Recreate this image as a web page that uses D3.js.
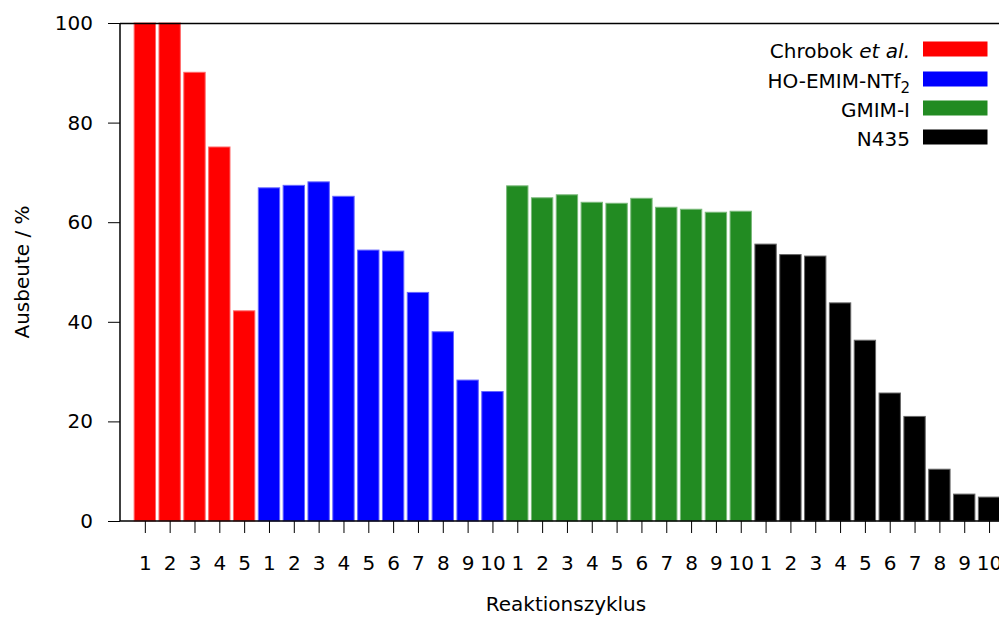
<!DOCTYPE html>
<html>
<head>
<meta charset="utf-8">
<script src="https://cdn.jsdelivr.net/npm/d3@7"></script>
<style>
  html, body { margin: 0; padding: 0; background: #fff; }
  svg { display: block; font-family: "DejaVu Sans", Verdana, sans-serif; }
</style>
</head>
<body>
<svg id="chart" width="999" height="617"></svg>
<script>
// Yield per reaction cycle for each catalyst system
const seriesNames = ["Chrobok et al.", "HO-EMIM-NTf2", "GMIM-I", "N435"];
const seriesColors = ["#ff0000", "#0000ff", "#228b22", "#000000"];
const chrobok = [100, 100, 90.1, 75.1, 42.2];
const hoEmim = [66.9, 67.4, 68.1, 65.2, 54.4, 54.2, 45.9, 38.0, 28.3, 26.0];
const gmim = [67.3, 64.9, 65.5, 64.0, 63.8, 64.8, 63.0, 62.6, 62.0, 62.2];
const n435 = [55.6, 53.5, 53.2, 43.8, 36.3, 25.7, 21.0, 10.4, 5.4, 4.8];
const yTicks = [0, 20, 40, 60, 80, 100];

const allSeries = [chrobok, hoEmim, gmim, n435];
const bars = [];
allSeries.forEach((vals, s) => {
  vals.forEach((v, i) => bars.push({ series: s, cycle: i + 1, value: v }));
});
bars.forEach((b, i) => { b.pos = i + 1; });

const svg = d3.select("#chart");
const plotLeft = 120, plotTop = 23, plotBottom = 521;
const slot = 24.83;
const plotRight = plotLeft + slot * (bars.length + 1);
const fontSize = 20;

const x = d3.scaleLinear().domain([0, bars.length + 1]).range([plotLeft, plotRight]);
const y = d3.scaleLinear().domain([0, 100]).range([plotBottom, plotTop]);
const barW = slot * 0.86;

// bars
svg.append("g").selectAll("rect").data(bars).join("rect")
  .attr("x", d => x(d.pos) - barW / 2)
  .attr("y", d => y(d.value))
  .attr("width", barW)
  .attr("height", d => y(0) - y(d.value))
  .attr("fill", d => seriesColors[d.series])
  .attr("stroke", d => d3.interpolateRgb(seriesColors[d.series], "#fff")(0.4))
  .attr("stroke-width", 1);

// frame: top border
svg.append("line")
  .attr("x1", plotLeft).attr("x2", plotRight)
  .attr("y1", plotTop + 0.5).attr("y2", plotTop + 0.5)
  .attr("stroke", "#000").attr("stroke-width", 1.5);

// y axis
const yAxis = d3.axisLeft(y).tickValues(yTicks).tickSize(12).tickPadding(15);
const gy = svg.append("g").attr("transform", `translate(${plotLeft},0)`).call(yAxis);
gy.select(".domain").attr("stroke", "#000").attr("stroke-width", 1.5).attr("d", `M0,${plotBottom}V${plotTop}`);
gy.selectAll(".tick line").attr("stroke", "#000");
gy.selectAll(".tick text").attr("font-size", fontSize).attr("fill", "#000").attr("font-family", "DejaVu Sans, sans-serif");

// x axis
const xAxis = d3.axisBottom(x).tickValues(bars.map(b => b.pos))
  .tickFormat(p => bars[p - 1].cycle).tickSize(12).tickPadding(23);
const gx = svg.append("g").attr("transform", `translate(0,${plotBottom})`).call(xAxis);
gx.select(".domain").attr("stroke", "#000").attr("stroke-width", 1.5).attr("d", `M${plotLeft},0H${plotRight}`);
gx.selectAll(".tick line").attr("stroke", "#000");
gx.selectAll(".tick text").attr("font-size", fontSize).attr("fill", "#000").attr("font-family", "DejaVu Sans, sans-serif");

// axis titles
svg.append("text")
  .attr("x", 566).attr("y", 611)
  .attr("text-anchor", "middle").attr("font-size", fontSize)
  .text("Reaktionszyklus");
svg.append("text")
  .attr("transform", "translate(29,272) rotate(-90)")
  .attr("text-anchor", "middle").attr("font-size", fontSize)
  .text("Ausbeute / %");

// legend
const legend = svg.append("g");
const rowY = [49, 79, 108, 137];
seriesNames.forEach((name, i) => {
  const g = legend.append("g").attr("transform", `translate(0,${rowY[i]})`);
  g.append("rect").attr("x", 923).attr("y", -7.5).attr("width", 64.5).attr("height", 15)
    .attr("fill", seriesColors[i]);
  const t = g.append("text").attr("x", 910).attr("y", 9)
    .attr("text-anchor", "end").attr("font-size", fontSize);
  if (i === 0) {
    t.append("tspan").text("Chrobok ");
    t.append("tspan").attr("font-style", "italic").text("et al.");
  } else if (i === 1) {
    t.append("tspan").text("HO-EMIM-NTf");
    t.append("tspan").attr("font-size", 15).attr("dy", 5).text("2");
  } else {
    t.text(name);
  }
});
</script>
</body>
</html>
